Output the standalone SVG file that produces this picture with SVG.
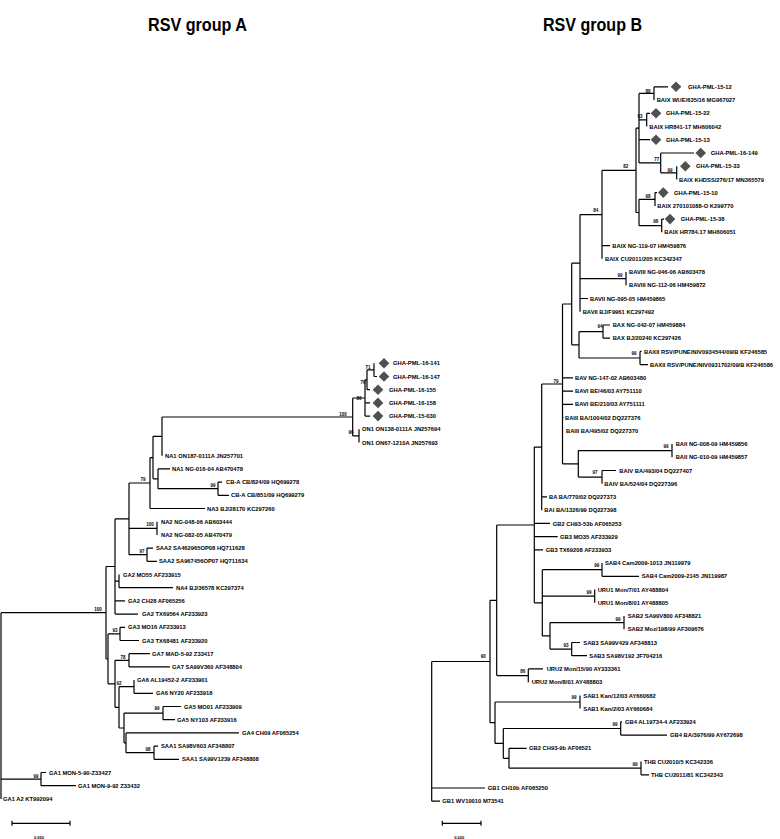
<svg xmlns="http://www.w3.org/2000/svg" width="780" height="839" viewBox="0 0 780 839">
<style>
.c path{stroke:#000;stroke-width:1.2;fill:none}
text{font-family:"Liberation Sans",Arial,sans-serif;font-weight:bold;fill:#000}
.t{font-size:5.8px}
.b{font-size:4.5px;text-anchor:middle}
.s{font-size:4px;text-anchor:middle}
.h{font-size:18px}
.d{fill:#505050}
</style>
<defs><polygon id="dm" class="d" points="0,-5.3 5.3,0 0,5.3 -5.3,0"/></defs>
<rect width="780" height="839" fill="#fff"/>
<text class="h" x="148" y="31" textLength="99" lengthAdjust="spacingAndGlyphs">RSV group A</text>
<text class="h" x="543" y="31" textLength="99" lengthAdjust="spacingAndGlyphs">RSV group B</text>

<g id="connectors" class="c">
<path d="M1,612.7V798.9M1,612.7H106M1,779.1H41"/>
<path d="M106,566.5V659M106,566.5H115M106,659H108"/>
<path d="M108,633.9V683.8M108,633.9H120M108,683.8H115"/>
<path d="M115,518.9V614.1M115,518.9H129M115,581.1H119M115,600.9H125M115,614.1H138"/>
<path d="M129,483V554.7M129,483H150M129,528.3H157M129,554.7H147"/>
<path d="M150,457.6V508.5M150,457.6H153M150,508.5H205"/>
<path d="M153,436.3V478.8M153,436.3H162M153,478.8H158"/>
<path d="M162,417V455.7M162,417H352.7"/>
<path d="M158,468.9V488.7M158,468.9H170M158,488.7H218"/>
<path d="M218,482.1V495.3M218,482.1H222M218,495.3H229"/>
<path d="M157,521.7V534.9"/>
<path d="M147,548.1V561.3M147,548.1H153M147,561.3H157"/>
<path d="M119,574.5V587.7M119,587.7H173"/>
<path d="M120,627.3V640.5M120,627.3H125M120,640.5H139"/>
<path d="M115,660.3V707.3M115,660.3H129M115,707.3H119"/>
<path d="M129,653.7V666.9M129,653.7H150M129,666.9H170"/>
<path d="M119,686.7V728M119,686.7H134M119,728H124"/>
<path d="M134,680.1V693.3M134,693.3H153"/>
<path d="M124,713.1V742.8M124,713.1H163M124,742.8H126"/>
<path d="M163,706.5V719.7M163,706.5H181M163,719.7H175"/>
<path d="M126,732.9V752.7M126,732.9H239M126,752.7H154"/>
<path d="M154,746.1V759.3M154,746.1H158M154,759.3H179"/>
<path d="M41,772.5V785.7M41,772.5H46M41,785.7H76"/>
<path d="M352.7,398V435.9M352.7,398H365M352.7,435.9H359"/>
<path d="M359,429.3V442.5"/>
<path d="M365,379.8V416.1M365,379.8H367M365,402.9H370M365,416.1H370"/>
<path d="M367,369.9V389.7M367,369.9H374M367,389.7H370"/>
<path d="M374,363.3V376.5M374,376.5H377"/>
<path d="M12,823.3H70M12,820.8V825.8M70,820.8V825.8"/>

<path d="M654,86.8V100M654,86.8H668"/>
<path d="M646.7,113.3V126.5M646.7,113.3H650"/>
<path d="M676.7,166.2V179.4"/>
<path d="M660.7,153V172.8M660.7,153H694M660.7,172.8H676.7"/>
<path d="M639,93.4V162.9M639,93.4H654M639,119.9H646.7M639,139.7H650M639,162.9H660.7"/>
<path d="M655,192.6V205.9M655,192.6H657"/>
<path d="M661.7,219.1V232.3M661.7,219.1H664"/>
<path d="M639,199.3V225.7M639,199.3H655M639,225.7H661.7"/>
<path d="M636,128.2V212.5M636,128.2H639M636,212.5H639"/>
<path d="M602,170.4V258.8M602,170.4H636M602,245.6H610"/>
<path d="M626,272V285.3"/>
<path d="M580,214.6V311.7M580,214.6H602M580,278.7H626M580,298.5H588"/>
<path d="M603,325V338.2M603,325H610M603,338.2H610"/>
<path d="M640,351.4V364.6M640,351.4H641.5M640,364.6H648"/>
<path d="M579,331.6V358M579,331.6H603M579,358H640"/>
<path d="M571.7,263.2V344.8M571.7,263.2H580M571.7,344.8H579"/>
<path d="M562.5,304V463.9M562.5,304H571.7M562.5,377.9H573M562.5,391.1H573M562.5,404.3H573M562.5,417.6H563.5M562.5,463.9H578.3"/>
<path d="M672,444V457.2"/>
<path d="M602,470.5V483.7M602,470.5H616"/>
<path d="M578.3,450.6V477.1M578.3,450.6H672M578.3,477.1H602"/>
<path d="M541.7,384V510.2M541.7,384H562.5M541.7,496.9H547"/>
<path d="M534.3,447.1V602.8M534.3,447.1H541.7M534.3,523.4H550M534.3,536.6H557.7M534.3,549.9H543M534.3,602.8H542.3"/>
<path d="M542.3,569.7V635.9M542.3,569.7H602M542.3,596.2H594.7M542.3,635.9H550"/>
<path d="M602,563.1V576.3M602,576.3H639"/>
<path d="M594.7,589.5V602.8"/>
<path d="M624,616V629.2"/>
<path d="M571.7,642.5V655.7M571.7,642.5H580M571.7,655.7H587"/>
<path d="M550,622.6V649.1M550,622.6H624M550,649.1H571.7"/>
<path d="M528.3,668.9V682.2M528.3,668.9H543"/>
<path d="M496.7,525V675.6M496.7,525H534.3M496.7,675.6H528.3"/>
<path d="M580,695.4V708.6"/>
<path d="M620.7,721.8V735.1M620.7,721.8H622M620.7,735.1H667"/>
<path d="M641,761.5V774.8M641,774.8H649"/>
<path d="M509,748.3V768.2M509,748.3H526.7M509,768.2H641"/>
<path d="M503.3,728.5V758.3M503.3,728.5H620.7M503.3,758.3H509"/>
<path d="M495,702V743.4M495,702H580M495,743.4H503.3"/>
<path d="M490,600.3V722.7M490,600.3H496.7M490,722.7H495"/>
<path d="M431.7,661.5V801.2M431.7,661.5H490M431.7,788H485M431.7,801.2H440"/>
<path d="M442.3,823.3H481M442.3,820.8V825.8M481,820.8V825.8"/>
</g>

<g id="bootstrap-A">
<text class="b" x="368" y="368.6">71</text>
<text class="b" x="363" y="383.6">76</text>
<text class="b" x="359" y="399.6">86</text>
<text class="b" x="343" y="415.6">100</text>
<text class="b" x="351" y="433.6">96</text>
<text class="b" x="143" y="480.6">79</text>
<text class="b" x="213" y="486.6">99</text>
<text class="b" x="150" y="525.6">100</text>
<text class="b" x="142" y="552.6">97</text>
<text class="b" x="98" y="610.6">100</text>
<text class="b" x="115" y="631.6">93</text>
<text class="b" x="123" y="658.6">78</text>
<text class="b" x="119" y="684.6">92</text>
<text class="b" x="157" y="709.6">99</text>
<text class="b" x="148" y="750.6">98</text>
<text class="b" x="36" y="777.6">99</text>
</g>
<g id="bootstrap-B">
<text class="b" x="648" y="92.6">88</text>
<text class="b" x="640" y="117.6">93</text>
<text class="b" x="656.7" y="160.6">77</text>
<text class="b" x="670" y="171.6">99</text>
<text class="b" x="625.7" y="168.3">82</text>
<text class="b" x="648" y="198.3">98</text>
<text class="b" x="595.7" y="211.6">84</text>
<text class="b" x="655.7" y="223.3">98</text>
<text class="b" x="620" y="276.6">99</text>
<text class="b" x="600" y="327.6">94</text>
<text class="b" x="634" y="354.6">99</text>
<text class="b" x="556" y="382.6">79</text>
<text class="b" x="666" y="447.6">99</text>
<text class="b" x="595" y="474.3">97</text>
<text class="b" x="596.7" y="567.3">99</text>
<text class="b" x="589" y="594.3">99</text>
<text class="b" x="618" y="620.6">99</text>
<text class="b" x="566" y="646.6">93</text>
<text class="b" x="522.7" y="673.3">86</text>
<text class="b" x="483.3" y="658.3">90</text>
<text class="b" x="574" y="699.3">99</text>
<text class="b" x="615" y="725.6">99</text>
<text class="b" x="635" y="765.6">99</text>
</g>

<g id="scale-A"><text class="s" x="39" y="838.5">0.050</text></g>
<g id="scale-B"><text class="s" x="459.3" y="838.5">0.020</text></g>

<g id="A01"><use href="#dm" x="384" y="363.3"/><text class="t" x="393" y="365.4">GHA-PML-16-141</text></g>
<g id="A02"><use href="#dm" x="384" y="376.5"/><text class="t" x="393" y="378.6">GHA-PML-16-147</text></g>
<g id="A03"><use href="#dm" x="378" y="389.7"/><text class="t" x="389" y="391.8">GHA-PML-16-155</text></g>
<g id="A04"><use href="#dm" x="378" y="402.9"/><text class="t" x="389" y="405.0">GHA-PML-16-158</text></g>
<g id="A05"><use href="#dm" x="378" y="416.1"/><text class="t" x="389" y="418.2">GHA-PML-15-030</text></g>
<g id="A06"><text class="t" x="362" y="431.4">ON1 ON138-0111A JN257694</text></g>
<g id="A07"><text class="t" x="362" y="444.6">ON1 ON67-1210A JN257693</text></g>
<g id="A08"><text class="t" x="165" y="457.8">NA1 ON187-0111A JN257701</text></g>
<g id="A09"><text class="t" x="172" y="471.0">NA1 NG-016-04 AB470478</text></g>
<g id="A10"><text class="t" x="226" y="484.2">CB-A CB/824/09 HQ699278</text></g>
<g id="A11"><text class="t" x="231" y="497.4">CB-A CB/851/09 HQ699279</text></g>
<g id="A12"><text class="t" x="207" y="510.6">NA3 BJ/28170 KC297260</text></g>
<g id="A13"><text class="t" x="161" y="523.8">NA2 NG-048-06 AB603444</text></g>
<g id="A14"><text class="t" x="161" y="537.0">NA2 NG-082-05 AB470479</text></g>
<g id="A15"><text class="t" x="156" y="550.2">SAA2 SA462965OP08 HQ711628</text></g>
<g id="A16"><text class="t" x="159" y="563.4">SAA2 SA967456OP07 HQ711634</text></g>
<g id="A17"><text class="t" x="123" y="576.6">GA2 MO55 AF233915</text></g>
<g id="A18"><text class="t" x="176" y="589.8">NA4 BJ/36578 KC297374</text></g>
<g id="A19"><text class="t" x="128" y="603.0">GA2 CH28 AF065256</text></g>
<g id="A20"><text class="t" x="142" y="616.2">GA2 TX69564 AF233923</text></g>
<g id="A21"><text class="t" x="128" y="629.4">GA3 MO16 AF233913</text></g>
<g id="A22"><text class="t" x="142" y="642.6">GA3 TX68481 AF233920</text></g>
<g id="A23"><text class="t" x="152" y="655.8">GA7 MAD-5-92 Z33417</text></g>
<g id="A24"><text class="t" x="172" y="669.0">GA7 SA99V360 AF348804</text></g>
<g id="A25"><text class="t" x="137" y="682.2">GA6 AL19452-2 AF233901</text></g>
<g id="A26"><text class="t" x="156" y="695.4">GA6 NY20 AF233918</text></g>
<g id="A27"><text class="t" x="184" y="708.6">GA5 MO01 AF233909</text></g>
<g id="A28"><text class="t" x="177" y="721.8">GA5 NY103 AF233916</text></g>
<g id="A29"><text class="t" x="242" y="735.0">GA4 CH09 AF065254</text></g>
<g id="A30"><text class="t" x="161" y="748.2">SAA1 SA98V603 AF348807</text></g>
<g id="A31"><text class="t" x="182" y="761.4">SAA1 SA99V1239 AF348808</text></g>
<g id="A32"><text class="t" x="49" y="774.6">GA1 MON-5-90-Z33427</text></g>
<g id="A33"><text class="t" x="78" y="787.8">GA1 MON-9-92 Z33432</text></g>
<g id="A34"><text class="t" x="3" y="801.0">GA1 A2 KT992094</text></g>

<g id="B01"><use href="#dm" x="676" y="86.8"/><text class="t" x="688" y="88.9">GHA-PML-15-12</text></g>
<g id="B02"><text class="t" x="656.7" y="102.1">BAIX WUE/635/16 MG967027</text></g>
<g id="B03"><use href="#dm" x="656" y="113.3"/><text class="t" x="666" y="115.4">GHA-PML-15-22</text></g>
<g id="B04"><text class="t" x="649.3" y="128.6">BAIX HR841-17 MH606042</text></g>
<g id="B05"><use href="#dm" x="656" y="139.7"/><text class="t" x="666" y="141.8">GHA-PML-15-13</text></g>
<g id="B06"><use href="#dm" x="700.7" y="153"/><text class="t" x="710.7" y="155.1">GHA-PML-16-149</text></g>
<g id="B07"><use href="#dm" x="685.3" y="166.2"/><text class="t" x="696" y="168.3">GHA-PML-15-33</text></g>
<g id="B08"><text class="t" x="679" y="181.5">BAIX KHDSS/276/17 MN365579</text></g>
<g id="B09"><use href="#dm" x="663.3" y="192.6"/><text class="t" x="674" y="194.7">GHA-PML-15-10</text></g>
<g id="B10"><text class="t" x="657.3" y="208.0">BAIX 270101088-O K299770</text></g>
<g id="B11"><use href="#dm" x="670" y="219.1"/><text class="t" x="680.7" y="221.2">GHA-PML-15-38</text></g>
<g id="B12"><text class="t" x="664.3" y="234.4">BAIX HR784.17 MH606051</text></g>
<g id="B13"><text class="t" x="612.3" y="247.7">BAIX NG-119-07 HM459876</text></g>
<g id="B14"><text class="t" x="605" y="260.9">BAIX CU2011/205 KC342347</text></g>
<g id="B15"><text class="t" x="629" y="274.1">BAVIII NG-046-06 AB603478</text></g>
<g id="B16"><text class="t" x="629" y="287.4">BAVIII NG-112-06 HM459872</text></g>
<g id="B17"><text class="t" x="590" y="300.6">BAVII NG-095-05 HM459865</text></g>
<g id="B18"><text class="t" x="582.7" y="313.8">BAVII BJ/F9961 KC297492</text></g>
<g id="B19"><text class="t" x="612.7" y="327.1">BAX NG-042-07 HM459884</text></g>
<g id="B20"><text class="t" x="612.7" y="340.3">BAX BJ/20240 KC297426</text></g>
<g id="B21"><text class="t" x="644" y="353.5">BAXII RSV/PUNE/NIV0934544/09/B KF246585</text></g>
<g id="B22"><text class="t" x="650" y="366.7">BAXII RSV/PUNE/NIV0931702/09/B KF246586</text></g>
<g id="B23"><text class="t" x="575" y="380.0">BAV NG-147-02 AB603480</text></g>
<g id="B24"><text class="t" x="575" y="393.2">BAVI BE/46/03 AY751110</text></g>
<g id="B25"><text class="t" x="575" y="406.4">BAVI BE/210/03 AY751111</text></g>
<g id="B26"><text class="t" x="565" y="419.7">BAIII BA/1004/02 DQ227376</text></g>
<g id="B27"><text class="t" x="566" y="432.9">BAIII BA/495/02 DQ227370</text></g>
<g id="B28"><text class="t" x="675.7" y="446.1">BAII NG-008-09 HM459856</text></g>
<g id="B29"><text class="t" x="675.7" y="459.3">BAII NG-010-09 HM459857</text></g>
<g id="B30"><text class="t" x="619.3" y="472.6">BAIV BA/493/04 DQ227407</text></g>
<g id="B31"><text class="t" x="604.3" y="485.8">BAIV BA/524/04 DQ227396</text></g>
<g id="B32"><text class="t" x="549" y="499.0">BA BA/770/02 DQ227373</text></g>
<g id="B33"><text class="t" x="544.3" y="512.3">BAI BA/1326/99 DQ227398</text></g>
<g id="B34"><text class="t" x="552.7" y="525.5">GB2 CH93-53b AF065253</text></g>
<g id="B35"><text class="t" x="560" y="538.7">GB3 MO35 AF233929</text></g>
<g id="B36"><text class="t" x="545.7" y="552.0">GB3 TX69208 AF233933</text></g>
<g id="B37"><text class="t" x="605" y="565.2">SAB4 Cam2009-1013 JN119979</text></g>
<g id="B38"><text class="t" x="641.7" y="578.4">SAB4 Cam2009-2145 JN119987</text></g>
<g id="B39"><text class="t" x="597.7" y="591.6">URU1 Mon/7/01 AY488804</text></g>
<g id="B40"><text class="t" x="597.7" y="604.9">URU1 Mon/8/01 AY488805</text></g>
<g id="B41"><text class="t" x="627.7" y="618.1">SAB2 SA99V800 AF348821</text></g>
<g id="B42"><text class="t" x="627.7" y="631.3">SAB2 Moz/198/99 AF309676</text></g>
<g id="B43"><text class="t" x="583.3" y="644.6">SAB3 SA99V429 AF348813</text></g>
<g id="B44"><text class="t" x="589.3" y="657.8">SAB3 SA98V192 JF704216</text></g>
<g id="B45"><text class="t" x="546.7" y="671.0">URU2 Mon/15/90 AY333361</text></g>
<g id="B46"><text class="t" x="531.7" y="684.3">URU2 Mon/8/01 AY488803</text></g>
<g id="B47"><text class="t" x="583.3" y="697.5">SAB1 Kan/12/03 AY660682</text></g>
<g id="B48"><text class="t" x="583.3" y="710.7">SAB1 Kan/2/03 AY660684</text></g>
<g id="B49"><text class="t" x="625" y="723.9">GB4 AL19734-4 AF233924</text></g>
<g id="B50"><text class="t" x="670" y="737.2">GB4 BA/3976/99 AY672698</text></g>
<g id="B51"><text class="t" x="529" y="750.4">GB2 CH93-9b AF06521</text></g>
<g id="B52"><text class="t" x="644" y="763.6">THB CU2010/5 KC342336</text></g>
<g id="B53"><text class="t" x="651" y="776.9">THB CU2011/81 KC342343</text></g>
<g id="B54"><text class="t" x="487.7" y="790.1">GB1 CH10b AF065250</text></g>
<g id="B55"><text class="t" x="442.3" y="803.3">GB1 WV10010 M73541</text></g>
</svg>
